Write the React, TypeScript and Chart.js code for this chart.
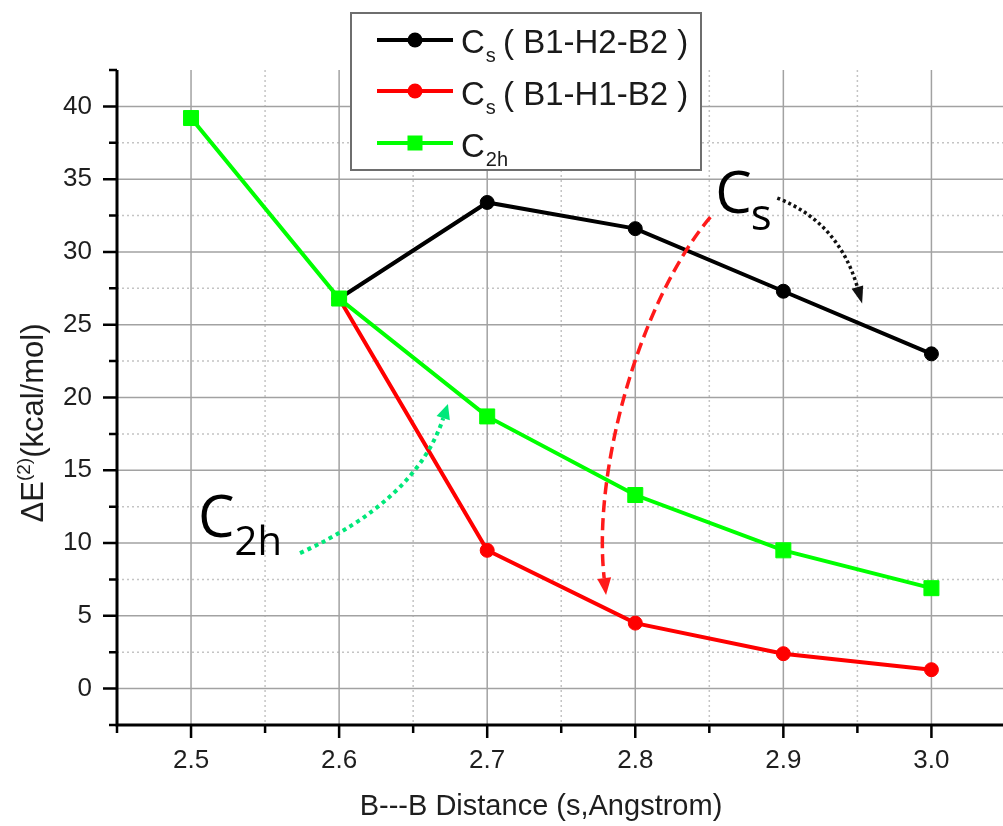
import { useEffect, useRef } from "react";
import { Chart, registerables } from "chart.js";

Chart.register(...registerables);

// B---B separation (Angstrom)
const distances = [2.5, 2.6, 2.7, 2.8, 2.9, 3.0];
// Second-order stabilisation energies, kcal/mol
const csB1H2B2 = [null, 26.8, 33.4, 31.6, 27.3, 23.0];
const csB1H1B2 = [null, 26.8, 9.5, 4.5, 2.4, 1.3];
const c2hValues = [39.2, 26.8, 18.7, 13.3, 9.5, 6.9];

const xMajorTicks = [2.5, 2.6, 2.7, 2.8, 2.9, 3.0];
const xMinorTicks = [2.45, 2.55, 2.65, 2.75, 2.85, 2.95];
const yMajorTicks = [0, 5, 10, 15, 20, 25, 30, 35, 40];
const yMinorTicks = [-2.5, 2.5, 7.5, 12.5, 17.5, 22.5, 27.5, 32.5, 37.5, 42.5];

const seriesNames = ["Cs ( B1-H2-B2 )", "Cs ( B1-H1-B2 )", "C2h"];
const legendMain = ["C", "C", "C"];
const legendSub = ["s", "s", "2h"];
const legendRest = ["( B1-H2-B2 )", "( B1-H1-B2 )", ""];
const seriesColors = ["#000000", "#ff0000", "#00ff00"];
const seriesMarkers = ["circle", "circle", "rect"];

// Curved guide arrows, given as bezier control points in data units
const arrowC2h = [[2.5736, 9.31], [2.652, 12.95], [2.6703, 18.58]];
const arrowCsRed = [[2.8507, 32.39], [2.8034, 26.69], [2.7709, 15.01], [2.779, 7.59]];
const arrowCsBlack = [[2.8959, 33.7], [2.9372, 32.05], [2.95, 27.58]];
const labelCsAt = [2.854, 32.7];
const labelC2hAt = [2.5047, 10.4];

const SANS = '"Liberation Sans", Arial, sans-serif';
const ROUND = '"Open Sans", "DejaVu Sans", sans-serif';

function toPoints(values: (number | null)[]) {
  return distances.map((d, i) => ({ x: d, y: values[i] }));
}

function drawArrowHead(ctx: CanvasRenderingContext2D, bx: number, by: number, dx: number, dy: number, len: number, half: number, color: string) {
  const n = Math.hypot(dx, dy) || 1;
  const ux = dx / n;
  const uy = dy / n;
  ctx.save();
  ctx.setLineDash([]);
  ctx.fillStyle = color;
  ctx.beginPath();
  ctx.moveTo(bx + ux * len, by + uy * len);
  ctx.lineTo(bx - uy * half, by + ux * half);
  ctx.lineTo(bx + uy * half, by - ux * half);
  ctx.closePath();
  ctx.fill();
  ctx.restore();
}

const decorPlugin = {
  id: "decor",
  beforeDatasetsDraw(chart: any) {
    const { ctx, chartArea: a, scales } = chart;
    const xs = scales.x;
    const ys = scales.y;
    const edge = chart.width;
    ctx.save();
    ctx.beginPath();
    ctx.rect(a.left, a.top, edge - a.left, a.bottom - a.top);
    ctx.clip();
    // minor grid (dotted)
    ctx.strokeStyle = "#c4c4c4";
    ctx.lineWidth = 1.5;
    ctx.setLineDash([2, 3]);
    xMinorTicks.forEach((v) => {
      const px = xs.getPixelForValue(v);
      ctx.beginPath();
      ctx.moveTo(px, a.top);
      ctx.lineTo(px, a.bottom);
      ctx.stroke();
    });
    yMinorTicks.forEach((v) => {
      if (v <= ys.min || v >= ys.max) return;
      const py = ys.getPixelForValue(v);
      ctx.beginPath();
      ctx.moveTo(a.left, py);
      ctx.lineTo(edge, py);
      ctx.stroke();
    });
    // major grid (solid)
    ctx.setLineDash([]);
    ctx.strokeStyle = "#a2a2a2";
    ctx.lineWidth = 1.5;
    xMajorTicks.forEach((v) => {
      const px = xs.getPixelForValue(v);
      ctx.beginPath();
      ctx.moveTo(px, a.top);
      ctx.lineTo(px, a.bottom);
      ctx.stroke();
    });
    yMajorTicks.forEach((v) => {
      const py = ys.getPixelForValue(v);
      ctx.beginPath();
      ctx.moveTo(a.left, py);
      ctx.lineTo(edge, py);
      ctx.stroke();
    });
    ctx.restore();
  },
  afterDatasetsDraw(chart: any) {
    const { ctx, chartArea: a, scales } = chart;
    const xs = scales.x;
    const ys = scales.y;
    const edge = chart.width;
    const P = (p: number[]) => [xs.getPixelForValue(p[0]), ys.getPixelForValue(p[1])];

    ctx.save();
    // axis lines
    ctx.strokeStyle = "#000";
    ctx.lineWidth = 3;
    ctx.beginPath();
    ctx.moveTo(a.left, a.top);
    ctx.lineTo(a.left, a.bottom);
    ctx.moveTo(a.left - 1.5, a.bottom);
    ctx.lineTo(edge, a.bottom);
    ctx.stroke();
    // tick marks
    ctx.lineWidth = 2.5;
    ctx.beginPath();
    yMajorTicks.forEach((v) => {
      const py = ys.getPixelForValue(v);
      ctx.moveTo(a.left - 14, py);
      ctx.lineTo(a.left, py);
    });
    yMinorTicks.forEach((v) => {
      const py = ys.getPixelForValue(v);
      ctx.moveTo(a.left - 8, py);
      ctx.lineTo(a.left, py);
    });
    xMajorTicks.forEach((v) => {
      const px = xs.getPixelForValue(v);
      ctx.moveTo(px, a.bottom);
      ctx.lineTo(px, a.bottom + 13);
    });
    xMinorTicks.forEach((v) => {
      const px = xs.getPixelForValue(v);
      ctx.moveTo(px, a.bottom);
      ctx.lineTo(px, a.bottom + 8);
    });
    ctx.stroke();

    // green dotted arrow toward the C2h curve
    {
      const [p0, p1, p2] = arrowC2h.map(P);
      ctx.strokeStyle = "#00e87a";
      ctx.lineWidth = 4;
      ctx.setLineDash([4, 4]);
      ctx.beginPath();
      ctx.moveTo(p0[0], p0[1]);
      ctx.quadraticCurveTo(p1[0], p1[1], p2[0], p2[1]);
      ctx.stroke();
      drawArrowHead(ctx, p2[0], p2[1], p2[0] - p1[0], p2[1] - p1[1], 15, 7, "#00e87a");
    }
    // red dashed arrow for the Cs (B1-H1-B2) branch
    {
      const [p0, p1, p2, p3] = arrowCsRed.map(P);
      ctx.strokeStyle = "#ff1a1a";
      ctx.lineWidth = 3.5;
      ctx.setLineDash([12, 6]);
      ctx.beginPath();
      ctx.moveTo(p0[0], p0[1]);
      ctx.bezierCurveTo(p1[0], p1[1], p2[0], p2[1], p3[0], p3[1]);
      ctx.stroke();
      drawArrowHead(ctx, p3[0], p3[1], p3[0] - p2[0], p3[1] - p2[1], 17, 7, "#ff1a1a");
    }
    // black dotted arrow for the Cs (B1-H2-B2) branch
    {
      const [p0, p1, p2] = arrowCsBlack.map(P);
      ctx.strokeStyle = "#111";
      ctx.lineWidth = 3.5;
      ctx.setLineDash([3, 3]);
      ctx.beginPath();
      ctx.moveTo(p0[0], p0[1]);
      ctx.quadraticCurveTo(p1[0], p1[1], p2[0], p2[1]);
      ctx.stroke();
      drawArrowHead(ctx, p2[0], p2[1], p2[0] - p1[0], p2[1] - p1[1], 17, 6, "#111");
    }
    ctx.setLineDash([]);

    // symmetry labels
    ctx.fillStyle = "#000";
    ctx.textBaseline = "alphabetic";
    ctx.textAlign = "left";
    {
      const [lx, ly] = P(labelCsAt);
      ctx.font = `58px ${ROUND}`;
      ctx.fillText("C", lx, ly);
      const w = ctx.measureText("C").width;
      ctx.font = `44px ${ROUND}`;
      ctx.fillText("s", lx + w - 1, ly + 17);
    }
    {
      const [lx, ly] = P(labelC2hAt);
      ctx.font = `58px ${ROUND}`;
      ctx.fillText("C", lx, ly);
      const w = ctx.measureText("C").width;
      ctx.font = `40px ${ROUND}`;
      ctx.fillText("2h", lx + w, ly + 18);
    }
    ctx.restore();
  },
  afterDraw(chart: any) {
    const { ctx } = chart;
    ctx.save();
    ctx.fillStyle = "#1e1e1e";
    ctx.textBaseline = "alphabetic";

    // x axis title
    ctx.font = `29px ${SANS}`;
    ctx.textAlign = "center";
    ctx.fillText("B---B Distance (s,Angstrom)", 541, 815);

    // y axis title with superscript
    ctx.translate(43, 423);
    ctx.rotate(-Math.PI / 2);
    ctx.textAlign = "left";
    const big = `31px ${SANS}`;
    const small = `19px ${SANS}`;
    ctx.font = big;
    const w1 = ctx.measureText("\u0394E").width;
    const w3 = ctx.measureText("(kcal/mol)").width;
    ctx.font = small;
    const w2 = ctx.measureText("(2)").width;
    let cx = -(w1 + w2 + w3) / 2;
    ctx.font = big;
    ctx.fillText("\u0394E", cx, 0);
    cx += w1;
    ctx.font = small;
    ctx.fillText("(2)", cx, -13);
    cx += w2;
    ctx.font = big;
    ctx.fillText("(kcal/mol)", cx, 0);
    ctx.restore();

    // legend box
    ctx.save();
    ctx.fillStyle = "#fff";
    ctx.fillRect(351, 13, 350, 157);
    ctx.strokeStyle = "#6e6e6e";
    ctx.lineWidth = 2;
    ctx.strokeRect(351, 13, 350, 157);
    const rowLine = [40, 91, 143];
    const rowBase = [53, 105, 157];
    seriesNames.forEach((_, i) => {
      const color = seriesColors[i];
      ctx.strokeStyle = color;
      ctx.lineWidth = 4;
      ctx.beginPath();
      ctx.moveTo(377, rowLine[i]);
      ctx.lineTo(453, rowLine[i]);
      ctx.stroke();
      ctx.fillStyle = color;
      if (seriesMarkers[i] === "rect") {
        ctx.fillRect(415 - 7.5, rowLine[i] - 7.5, 15, 15);
      } else {
        ctx.beginPath();
        ctx.arc(415, rowLine[i], 7.5, 0, Math.PI * 2);
        ctx.fill();
      }
      ctx.fillStyle = "#1a1a1a";
      ctx.textAlign = "left";
      ctx.font = `33px ${SANS}`;
      ctx.fillText(legendMain[i], 461, rowBase[i]);
      const wc = ctx.measureText(legendMain[i]).width;
      ctx.font = `20px ${SANS}`;
      ctx.fillText(legendSub[i], 461 + wc + 1, rowBase[i] + 9);
      if (legendRest[i]) {
        ctx.font = `33px ${SANS}`;
        ctx.fillText(legendRest[i], 503, rowBase[i]);
      }
    });
    ctx.restore();
  },
};

export default function App() {
  const canvasRef = useRef<HTMLCanvasElement | null>(null);

  useEffect(() => {
    const canvas = canvasRef.current;
    if (!canvas) return;
    const seriesData = [csB1H2B2, csB1H1B2, c2hValues];
    const chart = new Chart(canvas, {
      type: "line",
      data: {
        datasets: seriesData.map((vals, i) => ({
          label: seriesNames[i],
          data: toPoints(vals),
          borderColor: seriesColors[i],
          backgroundColor: seriesColors[i],
          borderWidth: 4,
          pointStyle: seriesMarkers[i] as any,
          pointRadius: seriesMarkers[i] === "rect" ? 10.6 : 7,
          pointBorderWidth: 1,
          pointBorderColor: seriesColors[i],
          pointBackgroundColor: seriesColors[i],
          tension: 0,
          spanGaps: false,
          order: 2 - i,
        })),
      },
      options: {
        animation: false,
        responsive: false,
        devicePixelRatio: 1,
        layout: { padding: { top: 70, right: 2, left: 0, bottom: 0 } },
        plugins: {
          legend: { display: false },
          tooltip: { enabled: false },
          title: { display: false },
        },
        scales: {
          x: {
            type: "linear",
            min: 2.45,
            max: 3.0405,
            afterBuildTicks: (s: any) => {
              s.ticks = xMajorTicks.map((v) => ({ value: v }));
            },
            afterFit: (s: any) => {
              s.height = 101;
            },
            grid: { display: false, drawTicks: false },
            border: { display: false },
            ticks: {
              autoSkip: false,
              maxRotation: 0,
              padding: 20,
              color: "#1e1e1e",
              font: { family: SANS, size: 26 },
              callback: (v: any) => Number(v).toFixed(1),
            },
          },
          y: {
            type: "linear",
            min: -2.5,
            max: 42.5,
            afterBuildTicks: (s: any) => {
              s.ticks = yMajorTicks.map((v) => ({ value: v }));
            },
            afterFit: (s: any) => {
              s.width = 117;
            },
            grid: { display: false, drawTicks: false },
            border: { display: false },
            ticks: {
              padding: 25,
              color: "#1e1e1e",
              font: { family: SANS, size: 26 },
              callback: (v: any) => String(v),
            },
          },
        },
      },
      plugins: [decorPlugin],
    });
    return () => chart.destroy();
  }, []);

  return (
    <div style={{ position: "absolute", left: 0, top: 0, width: 1003, height: 826, background: "#fff" }}>
      <canvas ref={canvasRef} width={1003} height={826} style={{ display: "block" }} />
    </div>
  );
}
